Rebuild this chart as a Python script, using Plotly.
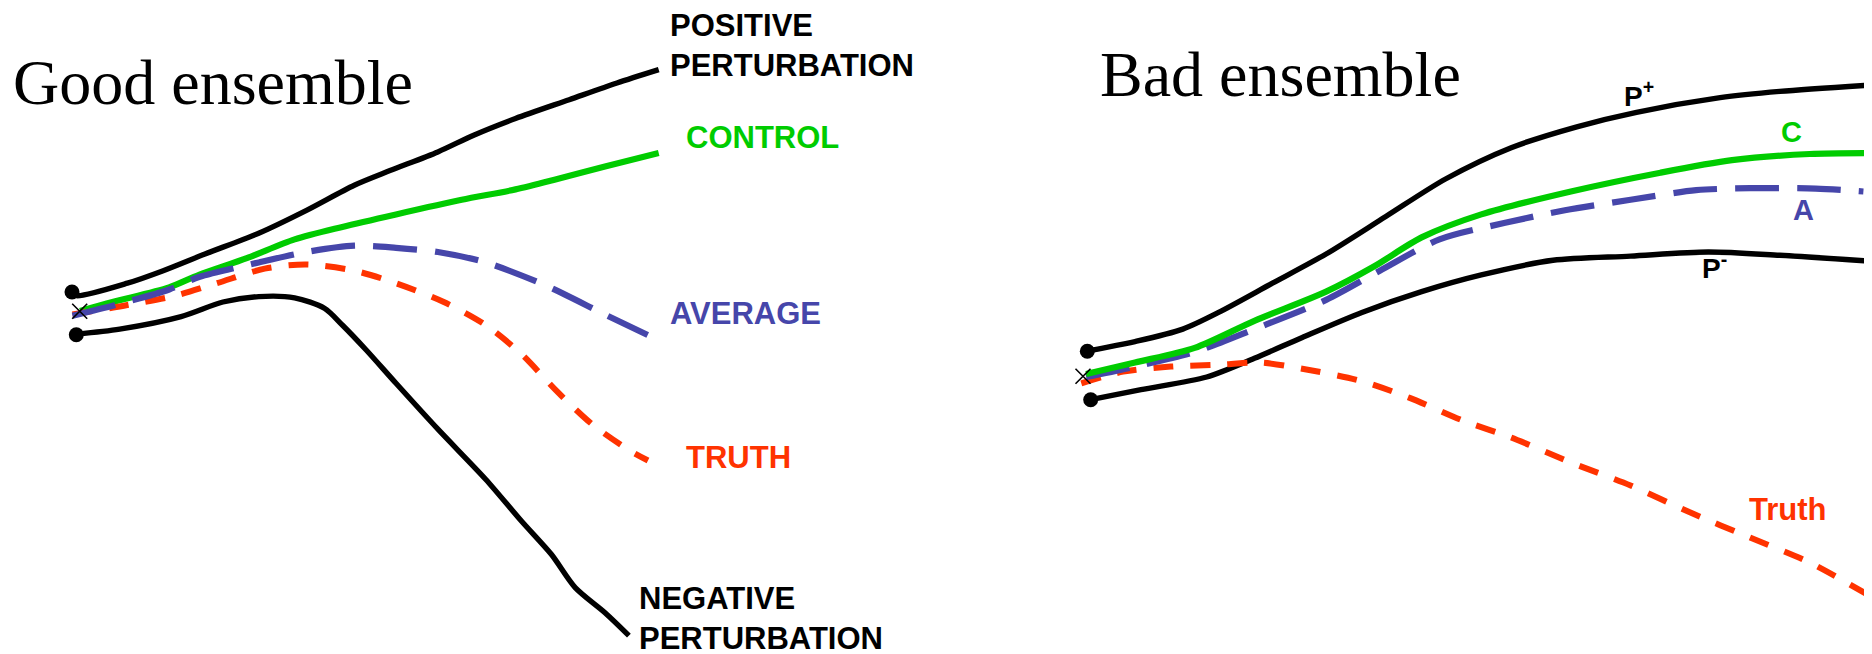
import plotly.graph_objects as go

# 畫布像素座標 (x 向右, y 向下)
W, H = 1872, 654

# 左圖: Good ensemble
good_pos_x = [64.5, 68.7, 119.4, 155.2, 197, 250.7, 298.5, 346.3, 382, 429.9, 465.7, 507.5, 561.2, 609, 650.7]
good_pos_y = [284.8, 287.7, 275.2, 262.7, 246, 225.2, 202.3, 177.2, 162.6, 143.9, 127.2, 110.5, 91.7, 75, 61.7]

good_ctrl_x = [72, 104.5, 161, 191, 238.8, 286.6, 334.3, 388, 453.7, 507.5, 549.3, 597, 650.7]
good_ctrl_y = [303, 294, 279.4, 266.9, 250.2, 231.4, 218.9, 206.4, 191.8, 181.4, 171, 158.5, 145.1]

good_avg_x = [64.5, 107.5, 161.2, 191, 250.7, 298.5, 346.3, 388, 429.9, 477.6, 537.3, 597, 644.8]
good_avg_y = [307.8, 296.9, 281.5, 269, 254.4, 244, 237.7, 239.8, 244, 254.4, 277.3, 306.5, 329.4]

good_truth_x = [64.5, 119.4, 167.2, 209, 256.7, 298.5, 346.3, 388, 435.8, 477.6, 513.4, 549.3, 585, 620.9, 640]
good_truth_y = [306.5, 297, 287.7, 275.2, 260.6, 256.5, 262.7, 275.2, 294, 317, 346, 383.7, 417, 442, 452.5]

good_neg_x = [68.7, 111.7, 173.1, 214.9, 250.7, 286.6, 316.4, 334.3, 358.2, 388, 429.9, 477.6, 513.4, 543.3, 567.2, 597, 620.9]
good_neg_y = [326.1, 321.1, 308.6, 294, 288.6, 289.8, 300.3, 317, 342, 375.3, 421.2, 471.2, 513, 546.3, 579.6, 604.7, 627.6]

# 右圖: Bad ensemble
bad_pos_x = [1079, 1085.3, 1127, 1174.8, 1210.6, 1264.4, 1318.1, 1377.8, 1437.5, 1503.2, 1568.8, 1628.5, 1712.1, 1771.8, 1861.4]
bad_pos_y = [343.5, 342, 333.6, 321.1, 304.4, 275.2, 246, 208.5, 171, 139.7, 118.8, 104.3, 89.7, 83.4, 77.1]

bad_ctrl_x = [1078.1, 1127, 1186.7, 1246.4, 1318.1, 1365.9, 1413.6, 1473.3, 1562.9, 1652.4, 1724, 1801.7, 1864.4]
bad_ctrl_y = [366.1, 354.5, 339.9, 312.8, 283.6, 258.5, 229.4, 206.4, 183.5, 164.7, 152.2, 146, 145.1]

bad_avg_x = [1078.1, 1127, 1186.7, 1246.4, 1318.1, 1371.8, 1431.5, 1497.2, 1556.9, 1622.6, 1688.2, 1742, 1807.7, 1855.4]
bad_avg_y = [369, 358.6, 344, 321.1, 291.9, 262.7, 231.4, 214.8, 202.3, 191.8, 182.2, 180.2, 180.6, 183.5]

bad_neg_x = [1082.7, 1133, 1198.7, 1246.4, 1294.3, 1353.9, 1413.6, 1473.3, 1545, 1622.6, 1700.2, 1771.8, 1867.3]
bad_neg_y = [391.7, 381.6, 369, 350.3, 329.4, 304.4, 283.6, 266.9, 252.3, 248.1, 244, 247.3, 253.5]

bad_truth_x = [1073.3, 1115.1, 1162.9, 1216.6, 1252.4, 1294.2, 1353.9, 1401.7, 1455.4, 1503.2, 1562.9, 1622.6, 1682.4, 1742, 1801.7, 1858.4]
bad_truth_y = [375.3, 363.6, 358.6, 356.5, 354.5, 360.7, 373.2, 389.9, 412.8, 429.5, 454.5, 477.5, 504.6, 529.6, 554.6, 585.9]

# 起點標記
start_dot_x = [64, 68.3, 1079.3, 1082.7]
start_dot_y = [284, 326.7, 343.3, 391.7]
start_cross_x = [71.7, 1075]
start_cross_y = [303.3, 368.3]

BLACK = '#000000'
GREEN = '#00CC00'
BLUE = '#4646AA'
RED = '#FF3300'

fig = go.Figure()


def add_line(x, y, color, width, dash='solid'):
    fig.add_trace(go.Scatter(
        x=x, y=y, mode='lines',
        line=dict(color=color, width=width, dash=dash, shape='spline', smoothing=0.8),
        hoverinfo='skip', showlegend=False
    ))


# 左圖
add_line(good_pos_x, good_pos_y, BLACK, 5.4)
add_line(good_neg_x, good_neg_y, BLACK, 5.4)
add_line(good_ctrl_x, good_ctrl_y, GREEN, 6.2)
add_line(good_truth_x, good_truth_y, RED, 6, '20px,17px')
add_line(good_avg_x, good_avg_y, BLUE, 6.2, '44px,18px')

# 右圖
add_line(bad_pos_x, bad_pos_y, BLACK, 5.4)
add_line(bad_neg_x, bad_neg_y, BLACK, 5.4)
add_line(bad_truth_x, bad_truth_y, RED, 6, '20px,17px')
add_line(bad_avg_x, bad_avg_y, BLUE, 6.2, '44px,18px')
add_line(bad_ctrl_x, bad_ctrl_y, GREEN, 6.2)

fig.add_trace(go.Scatter(
    x=start_dot_x, y=start_dot_y, mode='markers',
    marker=dict(color=BLACK, size=15),
    hoverinfo='skip', showlegend=False
))
fig.add_trace(go.Scatter(
    x=start_cross_x, y=start_cross_y, mode='markers',
    marker=dict(symbol='x-thin', size=15, line=dict(color=BLACK, width=1.6)),
    hoverinfo='skip', showlegend=False
))

LABEL_FONT = 'Liberation Sans, Arial, sans-serif'
TITLE_FONT = 'Liberation Serif, Times New Roman, serif'


def add_label(text, x, y, color, size=31, xanchor='left', family=LABEL_FONT, bold=True):
    fig.add_annotation(
        x=x, y=y, xref='x', yref='y', text=f'<b>{text}</b>' if bold else text,
        showarrow=False, xanchor=xanchor, yanchor='middle', align='left',
        borderpad=0, font=dict(family=family, size=size, color=color)
    )


# 標題
add_label('Good ensemble', 4, 74, BLACK, size=64, family=TITLE_FONT, bold=False)
add_label('Bad ensemble', 1091, 66, BLACK, size=64, family=TITLE_FONT, bold=False)

# 左圖標籤
add_label('POSITIVE<br>PERTURBATION', 661, 37, BLACK)
add_label('CONTROL', 677, 129.5, GREEN)
add_label('AVERAGE', 661, 305.5, BLUE)
add_label('TRUTH', 677, 449.5, RED)
add_label('NEGATIVE<br>PERTURBATION', 630, 610, BLACK)

# 右圖標籤
add_label('P<sup>+</sup>', 1615, 86, BLACK, size=28)
add_label('C', 1783, 123.5, GREEN, size=29, xanchor='center')
add_label('A', 1795, 201.5, BLUE, size=29, xanchor='center')
add_label('P<sup>-</sup>', 1693, 258, BLACK, size=28)
add_label('Truth', 1780, 501.5, RED, size=31, xanchor='center')

fig.update_layout(
    width=W, height=H,
    margin=dict(l=0, r=0, t=0, b=0),
    plot_bgcolor='white', paper_bgcolor='white',
    xaxis=dict(range=[0, W], visible=False, fixedrange=True),
    yaxis=dict(range=[H, 0], visible=False, fixedrange=True),
    showlegend=False,
)

fig.write_html("out.html")
